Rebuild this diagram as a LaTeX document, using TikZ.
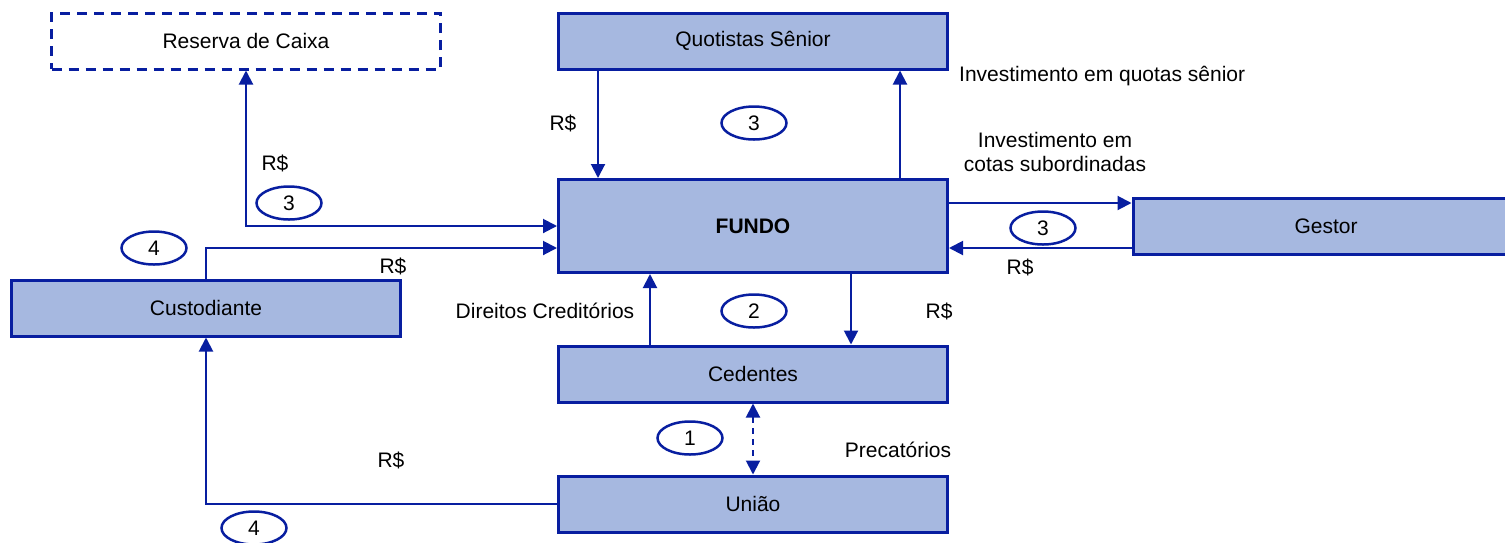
\documentclass[tikz,border=0pt]{standalone}
\usepackage{fontspec}
\setmainfont{Liberation Sans}
\usetikzlibrary{shapes.geometric,arrows.meta}
\definecolor{linhaazul}{RGB}{8,30,160}
\definecolor{caixaazul}{RGB}{166,184,224}

\begin{document}
\begin{tikzpicture}[x=1pt, y=-1pt,
	caixa/.style={draw=linhaazul, line width=3pt, fill=caixaazul, minimum width=389pt, minimum height=56pt, inner sep=0pt, font=\fontsize{21}{25}\selectfont},
	seta/.style={draw=linhaazul, line width=2pt, -{Triangle[length=14pt,width=14pt]}},
	numero/.style={draw=linhaazul, line width=2.5pt, ellipse, minimum width=65pt, minimum height=33pt, inner sep=0pt, font=\fontsize{21}{25}\selectfont},
	rotulo/.style={inner sep=0pt, font=\fontsize{21}{25}\selectfont}]
	\useasboundingbox (0,0) rectangle (1505,542);

	% caixas
	\node[caixa, fill=none, dash pattern=on 10pt off 7pt] (reserva) at (246,41) {Reserva de Caixa};
	\node[caixa] (quot) at (753,41) {Quotistas Sênior};
	\node[caixa, minimum height=93pt, font=\fontsize{21}{25}\selectfont\bfseries] (fundo) at (753,226) {FUNDO};
	\node[caixa, minimum width=386pt] (gestor) at (1326,226) {Gestor};
	\node[caixa] (cust) at (206,308) {Custodiante};
	\node[caixa] (ced) at (753,374) {Cedentes};
	\node[caixa] (uniao) at (753,504) {União};

	% fluxos
	\draw[seta] ([xshift=-155pt]quot.south) -- ([xshift=-155pt]fundo.north);
	\draw[seta] ([xshift=147pt]fundo.north) -- ([xshift=147pt]quot.south);
	\draw[seta] ([yshift=23pt]fundo.east) -- ([yshift=23pt]gestor.west);
	\draw[seta] ([yshift=-22pt]gestor.west) -- ([yshift=-22pt]fundo.east);
	\draw[seta, {Triangle[length=14pt,width=14pt]}-{Triangle[length=14pt,width=14pt]}] (reserva.south) |- (fundo.west);
	\draw[seta] (cust.north) |- ([yshift=-22pt]fundo.west);
	\draw[seta] (uniao.west) -| (cust.south);
	\draw[seta] ([xshift=-103pt]ced.north) -- ([xshift=-103pt]fundo.south);
	\draw[seta] ([xshift=98pt]fundo.south) -- ([xshift=98pt]ced.north);
	\draw[seta, dash pattern=on 6pt off 5pt, {Triangle[length=14pt,width=14pt]}-{Triangle[length=14pt,width=14pt]}] (ced.south) -- (uniao.north);

	% numeros
	\node[numero] (n3a) at (289,203) {3};
	\node[numero] (n4a) at (154,248) {4};
	\node[numero] (n3b) at (754,123) {3};
	\node[numero] (n3c) at (1043,228) {3};
	\node[numero] (n2) at (754,311) {2};
	\node[numero] (n1) at (690,438) {1};
	\node[numero] (n4b) at (254,528) {4};

	% textos
	\node[rotulo] (r1) at (275,163) {R\$};
	\node[rotulo] (r2) at (563,123) {R\$};
	\node[rotulo, anchor=west] (invsen) at (959,76) {Investimento em quotas sênior};
	\node[rotulo, align=center, font=\fontsize{21}{24}\selectfont] (invsub) at (1055,152) {Investimento em\\cotas subordinadas};
	\node[rotulo] (r3) at (1020,267) {R\$};
	\node[rotulo] (r4) at (393,266) {R\$};
	\node[rotulo] (dir) at (545,311) {Direitos Creditórios};
	\node[rotulo] (r5) at (939,311) {R\$};
	\node[rotulo] (prec) at (898,450) {Precatórios};
	\node[rotulo] (r6) at (391,460) {R\$};
\end{tikzpicture}
\end{document}
